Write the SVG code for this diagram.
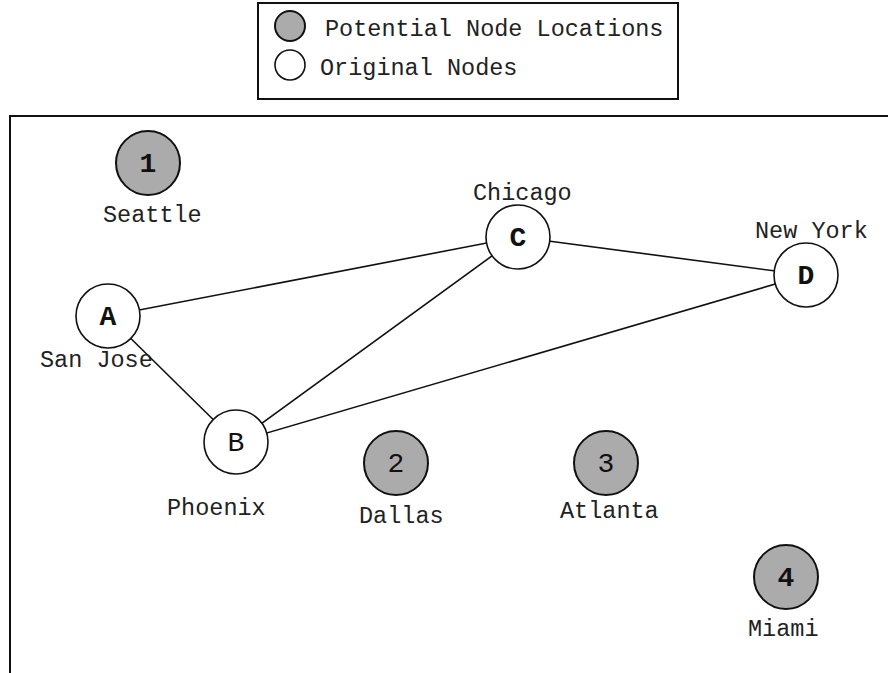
<svg xmlns="http://www.w3.org/2000/svg" width="888" height="673" viewBox="0 0 888 673">
  <style>
    .label { font-family: "Liberation Mono", "Courier New", monospace; font-size: 23.5px; fill: #222; }
    .legend { font-family: "Liberation Mono", "Courier New", monospace; font-size: 23.5px; fill: #222; }
    .tag { font-family: "Liberation Mono", "Courier New", monospace; font-size: 28px; font-weight: bold; fill: #111; text-anchor: middle; dominant-baseline: central; }
    .tag.thin { font-weight: normal; }
    .orig { fill: #fff; stroke: #111; stroke-width: 1.6; }
    .cand { fill: #ababab; stroke: #111; stroke-width: 2; }
    .edge { stroke: #111; stroke-width: 1.6; fill: none; }
    .frame { fill: none; stroke: #111; stroke-width: 2; }
  </style>

  <!-- legend -->
  <g id="legend">
    <rect class="frame" x="258" y="3" width="420" height="96"/>
    <circle class="cand" cx="290" cy="26" r="15"/>
    <text class="legend" x="325" y="36">Potential Node Locations</text>
    <circle class="orig" cx="290" cy="65" r="15"/>
    <text class="legend" x="320" y="75">Original Nodes</text>
  </g>

  <!-- map frame (open at right and bottom) -->
  <path class="frame" d="M888,116 H10 V673"/>

  <!-- connectors -->
  <g id="edges">
    <line class="edge" x1="108" y1="316" x2="518" y2="237"/>
    <line class="edge" x1="108" y1="316" x2="236" y2="442"/>
    <line class="edge" x1="236" y1="442" x2="518" y2="237"/>
    <line class="edge" x1="236" y1="442" x2="806" y2="275"/>
    <line class="edge" x1="518" y1="237" x2="806" y2="275"/>
  </g>

  <!-- original nodes -->
  <g id="nodeA">
    <circle class="orig" cx="108" cy="316" r="32"/>
    <text class="tag" x="108" y="317">A</text>
    <text class="label" x="40" y="367">San Jose</text>
  </g>
  <g id="nodeB">
    <circle class="orig" cx="236" cy="442" r="32"/>
    <text class="tag thin" x="236" y="443">B</text>
    <text class="label" x="167" y="515">Phoenix</text>
  </g>
  <g id="nodeC">
    <circle class="orig" cx="518" cy="237" r="32"/>
    <text class="tag" x="518" y="238">C</text>
    <text class="label" x="473" y="200">Chicago</text>
  </g>
  <g id="nodeD">
    <circle class="orig" cx="806" cy="275" r="32"/>
    <text class="tag" x="806" y="276">D</text>
    <text class="label" x="755" y="238">New York</text>
  </g>

  <!-- candidate locations -->
  <g id="node1">
    <circle class="cand" cx="148" cy="163" r="32"/>
    <text class="tag" x="148" y="164">1</text>
    <text class="label" x="103" y="222">Seattle</text>
  </g>
  <g id="node2">
    <circle class="cand" cx="396" cy="463" r="32"/>
    <text class="tag thin" x="396" y="464">2</text>
    <text class="label" x="359" y="523">Dallas</text>
  </g>
  <g id="node3">
    <circle class="cand" cx="606" cy="463" r="32"/>
    <text class="tag thin" x="606" y="464">3</text>
    <text class="label" x="560" y="518">Atlanta</text>
  </g>
  <g id="node4">
    <circle class="cand" cx="786" cy="577" r="32"/>
    <text class="tag" x="786" y="578">4</text>
    <text class="label" x="748" y="636">Miami</text>
  </g>
</svg>
